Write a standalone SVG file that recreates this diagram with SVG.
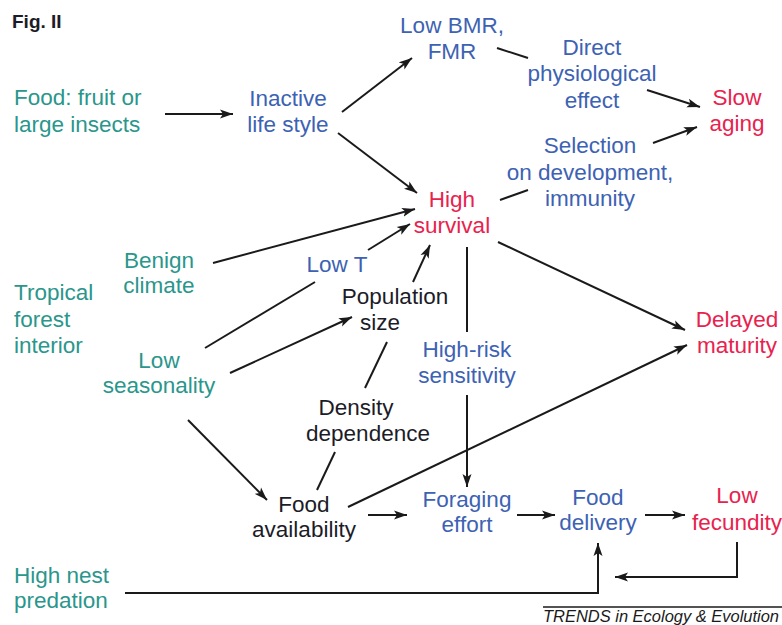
<svg xmlns="http://www.w3.org/2000/svg" width="782" height="625" viewBox="0 0 782 625">
<style>
text{font-family:"Liberation Sans",Arial,sans-serif;font-size:22.5px}
.t{fill:#2a968c}
.b{fill:#3d62b3}
.r{fill:#e8224e}
.k{fill:#1c1c28}
.c{text-anchor:middle}
.ln{stroke:#1a1a1a;stroke-width:2;fill:none}
</style>
<defs>
<marker id="ah" markerUnits="userSpaceOnUse" markerWidth="14" markerHeight="10" refX="13" refY="5" orient="auto">
<path d="M0,0.5 L13,5 L0,9.5 L3,5 z" fill="#1a1a1a"/>
</marker>
</defs>
<rect width="782" height="625" fill="#fff"/>
<text x="12" y="28" style="font-size:19px;font-weight:bold" fill="#1c1c28">Fig. II</text>

<g id="connectors">
<line class="ln" x1="165" y1="114" x2="233" y2="114" marker-end="url(#ah)"/>
<line class="ln" x1="342" y1="112" x2="412" y2="58" marker-end="url(#ah)"/>
<line class="ln" x1="338" y1="133" x2="417" y2="193" marker-end="url(#ah)"/>
<line class="ln" x1="497" y1="48" x2="528" y2="58"/>
<line class="ln" x1="647" y1="90" x2="700" y2="107" marker-end="url(#ah)"/>
<line class="ln" x1="653" y1="143" x2="697" y2="127" marker-end="url(#ah)"/>
<line class="ln" x1="500" y1="200" x2="528" y2="190"/>
<line class="ln" x1="213" y1="263" x2="415" y2="209" marker-end="url(#ah)"/>
<line class="ln" x1="368" y1="250" x2="410" y2="224" marker-end="url(#ah)"/>
<line class="ln" x1="413" y1="282" x2="430" y2="245" marker-end="url(#ah)"/>
<line class="ln" x1="205" y1="348" x2="315" y2="282"/>
<line class="ln" x1="230" y1="373" x2="352" y2="317" marker-end="url(#ah)"/>
<line class="ln" x1="387" y1="342" x2="365" y2="388"/>
<line class="ln" x1="335" y1="452" x2="317" y2="490"/>
<line class="ln" x1="188" y1="420" x2="267" y2="500" marker-end="url(#ah)"/>
<line class="ln" x1="348" y1="507" x2="687" y2="345" marker-end="url(#ah)"/>
<line class="ln" x1="368" y1="515" x2="407" y2="515" marker-end="url(#ah)"/>
<line class="ln" x1="498" y1="242" x2="685" y2="330" marker-end="url(#ah)"/>
<line class="ln" x1="467" y1="247" x2="467" y2="332"/>
<line class="ln" x1="467" y1="395" x2="467" y2="487" marker-end="url(#ah)"/>
<line class="ln" x1="517" y1="515" x2="555" y2="515" marker-end="url(#ah)"/>
<line class="ln" x1="645" y1="515" x2="685" y2="515" marker-end="url(#ah)"/>
<polyline class="ln" points="737,542 737,577 615,577" marker-end="url(#ah)"/>
<polyline class="ln" points="125,593 598,593 598,543" marker-end="url(#ah)"/>
</g>

<g id="food"><text class="t" x="14" y="105">Food: fruit or</text><text class="t" x="14" y="132">large insects</text></g>
<g id="inactive"><text class="b c" x="288" y="106">Inactive</text><text class="b c" x="288" y="132">life style</text></g>
<g id="lowbmr"><text class="b c" x="452" y="33">Low BMR,</text><text class="b c" x="452" y="59">FMR</text></g>
<g id="direct"><text class="b c" x="592" y="55">Direct</text><text class="b c" x="592" y="81">physiological</text><text class="b c" x="592" y="108">effect</text></g>
<g id="slowaging"><text class="r c" x="737" y="105">Slow</text><text class="r c" x="737" y="131">aging</text></g>
<g id="selection"><text class="b c" x="590" y="153">Selection</text><text class="b c" x="590" y="180">on development,</text><text class="b c" x="590" y="206">immunity</text></g>
<g id="highsurvival"><text class="r c" x="452" y="207">High</text><text class="r c" x="452" y="233">survival</text></g>
<g id="benign"><text class="t c" x="159" y="268">Benign</text><text class="t c" x="159" y="293">climate</text></g>
<g id="tropical"><text class="t" x="14" y="300">Tropical</text><text class="t" x="14" y="327">forest</text><text class="t" x="14" y="353">interior</text></g>
<g id="lowt"><text class="b c" x="337" y="272">Low T</text></g>
<g id="population"><text class="k c" x="395" y="304">Population</text><text class="k c" x="380" y="330">size</text></g>
<g id="lowseason"><text class="t c" x="159" y="368">Low</text><text class="t c" x="159" y="393">seasonality</text></g>
<g id="highrisk"><text class="b c" x="467" y="357">High-risk</text><text class="b c" x="467" y="383">sensitivity</text></g>
<g id="delayed"><text class="r c" x="737" y="327">Delayed</text><text class="r c" x="737" y="353">maturity</text></g>
<g id="density"><text class="k c" x="356" y="415">Density</text><text class="k c" x="368" y="441">dependence</text></g>
<g id="foodavail"><text class="k c" x="304" y="512">Food</text><text class="k c" x="304" y="537">availability</text></g>
<g id="foraging"><text class="b c" x="467" y="507">Foraging</text><text class="b c" x="467" y="532">effort</text></g>
<g id="fooddelivery"><text class="b c" x="598" y="505">Food</text><text class="b c" x="598" y="530">delivery</text></g>
<g id="lowfecundity"><text class="r c" x="737" y="503">Low</text><text class="r c" x="737" y="530">fecundity</text></g>
<g id="nestpredation"><text class="t" x="14" y="583">High nest</text><text class="t" x="14" y="608">predation</text></g>
<g id="credit"><line x1="543" y1="607" x2="782" y2="607" stroke="#1a1a1a" stroke-width="1.5"/><text x="543" y="622" style="font-size:16.5px;font-style:italic" fill="#1a1a1a" textLength="236" lengthAdjust="spacingAndGlyphs">TRENDS in Ecology &amp; Evolution</text></g>
</svg>
